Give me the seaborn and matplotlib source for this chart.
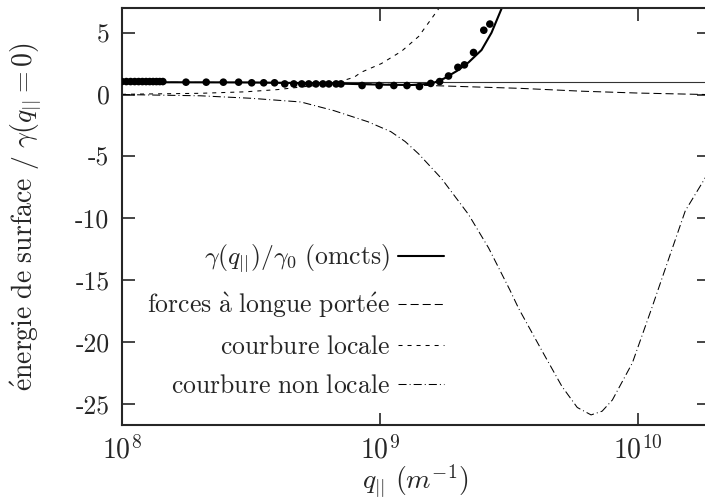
import matplotlib
matplotlib.use('Agg')
import matplotlib.pyplot as plt
import seaborn as sns
from matplotlib.ticker import FixedLocator, NullLocator

# --- data (q in m^-1) ---
q_omcts = [1.0e8, 3.15e8, 6.44e8, 1.01e9, 1.32e9, 1.58e9, 1.77e9, 1.98e9, 2.20e9, 2.47e9, 2.70e9, 2.96e9, 3.10e9]
g_omcts = [1.0, 0.98, 0.9, 0.8, 0.77, 0.88, 1.3, 1.9, 2.6, 3.6, 5.0, 7.0, 8.2]

q_dots = [1.00e8, 1.04e8, 1.08e8, 1.12e8, 1.16e8, 1.20e8, 1.24e8, 1.28e8, 1.32e8, 1.36e8, 1.40e8, 1.44e8,
          1.77e8, 2.12e8, 2.47e8, 2.83e8, 3.18e8, 3.54e8, 3.90e8, 4.27e8, 4.63e8, 4.97e8, 5.29e8,
          5.64e8, 6.00e8, 6.33e8, 6.75e8, 7.05e8,
          8.51e8, 9.91e8, 1.13e9, 1.27e9, 1.42e9, 1.57e9, 1.70e9, 1.84e9, 2.00e9, 2.12e9, 2.30e9,
          2.52e9, 2.66e9]
g_dots = [1.05, 1.05, 1.05, 1.05, 1.05, 1.05, 1.05, 1.05, 1.05, 1.05, 1.05, 1.05,
          1.0, 1.0, 1.0, 1.0, 0.95, 0.95, 0.95, 0.86, 0.86, 0.86, 0.86,
          0.86, 0.86, 0.86, 0.86, 0.86,
          0.73, 0.73, 0.73, 0.73, 0.65, 0.9, 1.05, 1.5, 2.2, 2.4, 3.4,
          5.2, 5.7]

q_long = [1.0e8, 3.0e8, 6.0e8, 1.0e9, 1.73e9, 3.5e9, 6.05e9, 1.0e10, 1.85e10]
g_long = [1.0, 0.97, 0.92, 0.85, 0.7, 0.5, 0.27, 0.12, 0.0]

q_local = [1.0e8, 2.0e8, 3.0e8, 4.0e8, 5.0e8, 6.62e8, 7.93e8, 8.44e8, 1.01e9, 1.21e9, 1.41e9, 1.68e9, 1.80e9]
g_local = [0.02, 0.1, 0.22, 0.4, 0.62, 0.9, 1.4, 1.8, 2.5, 3.5, 4.7, 6.9, 8.0]

q_nonlocal = [1.0e8, 2.01e8, 3.15e8, 4.93e8, 6.62e8, 8.97e8, 1.10e9, 1.25e9, 1.41e9, 1.73e9, 2.20e9, 2.63e9,
              3.18e9, 3.44e9, 4.23e9, 5.06e9, 5.80e9, 6.56e9, 7.24e9, 7.93e9, 9.48e9, 1.13e10,
              1.32e10, 1.52e10, 1.82e10, 1.90e10]
g_nonlocal = [0.0, -0.1, -0.3, -0.6, -1.3, -2.2, -3.0, -3.8, -4.8, -6.8, -9.7, -12.4,
              -15.8, -17.3, -20.7, -23.6, -25.3, -25.9, -25.6, -24.7, -21.7, -17.2,
              -13.1, -9.4, -6.7, -5.9]

gamma_ref = 1.0

labels = [r'$\gamma(q_{||})/\gamma_0\ \mathrm{(omcts)}$',
          r'$\mathrm{forces\ \grave{a}\ longue\ port\acute{e}e}$',
          r'$\mathrm{courbure\ locale}$',
          r'$\mathrm{courbure\ non\ locale}$']
y_ticks = [-25, -20, -15, -10, -5, 0, 5]
y_ticklabels = ['-25', '-20', '-15', '-10', '-5', '0', '5']
x_ticks = [1e8, 1e9, 1e10]
x_ticklabels = [r'$10^{8}$', r'$10^{9}$', r'$10^{10}$']

sns.set_style('ticks')
plt.rcParams['font.family'] = ['cmr10', 'DejaVu Serif']
plt.rcParams['mathtext.fontset'] = 'cm'
plt.rcParams['axes.unicode_minus'] = False
plt.rcParams['lines.scale_dashes'] = False

fig = plt.figure(figsize=(7.05, 4.98), dpi=100)
ax = fig.add_axes([0.173, 0.147, 0.832, 0.837])

ax.axhline(gamma_ref, color='#333333', lw=0.8)
sns.lineplot(x=q_omcts, y=g_omcts, ax=ax, color='black', lw=1.5, label=labels[0])
sns.lineplot(x=q_long, y=g_long, ax=ax, color='black', lw=0.75,
             linestyle=(0, (5.8, 2.9)), label=labels[1])
sns.lineplot(x=q_local, y=g_local, ax=ax, color='black', lw=0.75,
             linestyle=(0, (2.9, 3.6)), label=labels[2])
sns.lineplot(x=q_nonlocal, y=g_nonlocal, ax=ax, color='black', lw=0.75,
             linestyle=(0, (5.8, 2.2, 0.7, 2.2)), label=labels[3])
sns.scatterplot(x=q_dots, y=g_dots, ax=ax, color='black', s=30, edgecolor='none', zorder=5)

ax.set_xscale('log')
ax.set_xlim(1e8, 1.87e10)
ax.set_ylim(-26.7, 7.0)
ax.xaxis.set_major_locator(FixedLocator(x_ticks))
ax.xaxis.set_minor_locator(NullLocator())
ax.set_xticklabels(x_ticklabels)
ax.set_yticks(y_ticks)
ax.set_yticklabels(y_ticklabels)
ax.tick_params(direction='in', length=9, width=1.2, top=True, right=True, pad=9)
ax.tick_params(axis='x', labelsize=20, pad=8)
ax.tick_params(axis='y', labelsize=18.5)
for sp in ax.spines.values():
    sp.set_linewidth(1.5)
    sp.set_visible(True)

ax.set_xlabel(r'$q_{||}\ (m^{-1})$', fontsize=20, va='top')
ax.xaxis.set_label_coords(0.5, -0.09)
ax.set_ylabel(r'$\mathrm{\acute{e}nergie\ de\ surface}\ /\ \gamma(q_{||} = 0)$', fontsize=20)
ax.yaxis.set_label_coords(-0.135, 0.5)

ax.legend(loc='lower right', bbox_to_anchor=(0.58, 0.02), frameon=False,
          markerfirst=False, fontsize=18.5, handlelength=1.8, handletextpad=0.3,
          labelspacing=0.6, borderpad=0.2)

fig.savefig('out.png', dpi=100)
